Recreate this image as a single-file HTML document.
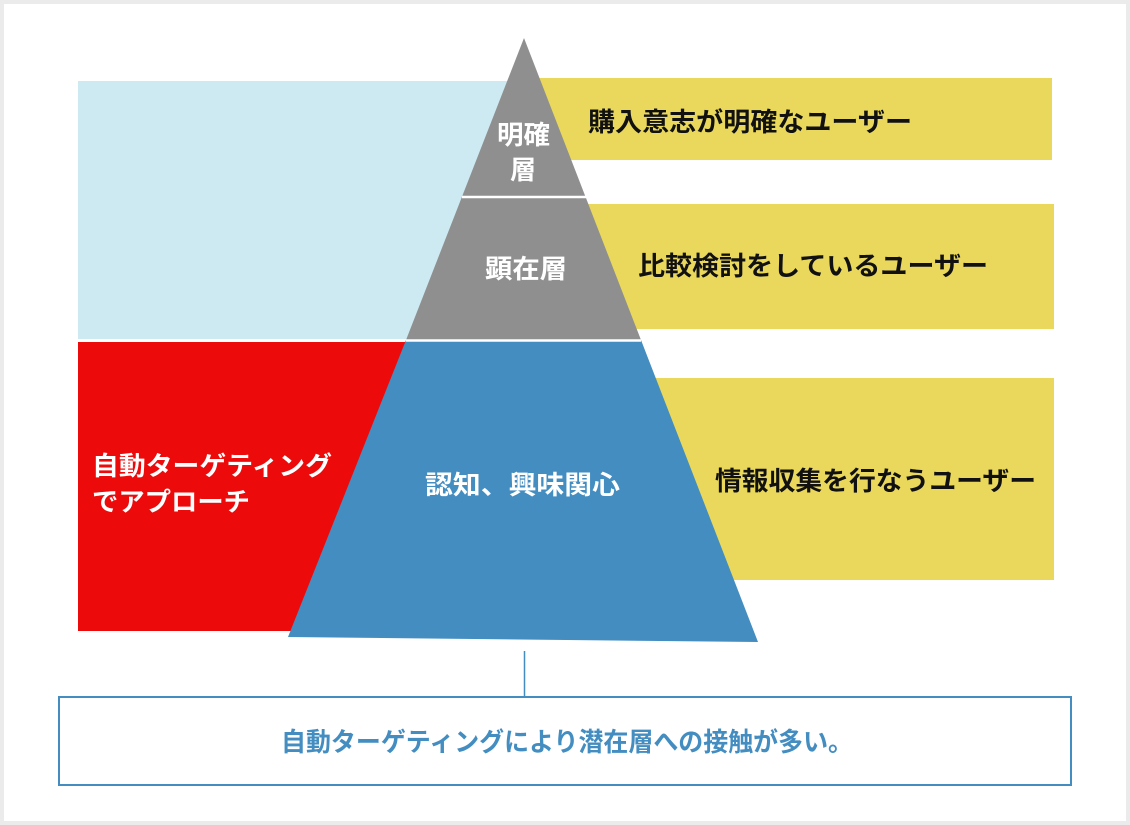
<!DOCTYPE html>
<html><head><meta charset="utf-8"><style>
html,body{margin:0;padding:0;background:#fff}
svg{display:block}
text{font-family:"Liberation Sans","Noto Sans CJK JP",sans-serif;font-weight:bold;dominant-baseline:central}
</style></head><body>
<svg width="1130" height="825" viewBox="0 0 1130 825" xmlns="http://www.w3.org/2000/svg">
<rect x="0" y="0" width="1130" height="825" fill="#ebebeb"/>
<rect x="4" y="4" width="1122" height="817" fill="#fff"/>
<rect x="78" y="81" width="450" height="258" fill="#cdeaf3"/>
<rect x="78" y="342" width="340" height="289" fill="#ec0a0a"/>
<rect x="530" y="78" width="522" height="82" fill="#e9d85c"/>
<rect x="580" y="204" width="474" height="125" fill="#e9d85c"/>
<rect x="640" y="378" width="414" height="202" fill="#e9d85c"/>
<polygon points="524,38 641,340 406,340" fill="#8f8f8f"/>
<polygon points="406,340 641,340 758,642 288,637" fill="#438dc1"/>
<line x1="462" y1="197" x2="586" y2="197" stroke="#fff" stroke-width="2.5"/>
<line x1="406" y1="340.5" x2="641" y2="340.5" stroke="#fff" stroke-width="2.5"/>
<line x1="524.5" y1="651" x2="524.5" y2="696" stroke="#438dc1" stroke-width="1.5"/>
<rect x="59" y="697" width="1012" height="88" fill="none" stroke="#438dc1" stroke-width="2"/>
<g font-size="26">
<text x="588" y="122" textLength="324" lengthAdjust="spacingAndGlyphs" fill="#111">購入意志が明確なユーザー</text>
<text x="638" y="266" textLength="350" lengthAdjust="spacingAndGlyphs" fill="#111">比較検討をしているユーザー</text>
<text x="715" y="481" textLength="321" lengthAdjust="spacingAndGlyphs" fill="#111">情報収集を行なうユーザー</text>
<text x="497" y="135" textLength="53" lengthAdjust="spacingAndGlyphs" fill="#fff">明確</text>
<text x="510" y="170" fill="#fff">層</text>
<text x="485" y="269" textLength="82" lengthAdjust="spacingAndGlyphs" fill="#fff">顕在層</text>
<text x="425" y="485" textLength="195" lengthAdjust="spacingAndGlyphs" fill="#fff">認知、興味関心</text>
<text x="92" y="466" textLength="240" lengthAdjust="spacingAndGlyphs" fill="#fff">自動ターゲティング</text>
<text x="92" y="502" textLength="158" lengthAdjust="spacingAndGlyphs" fill="#fff">でアプローチ</text>
<text x="281" y="742" textLength="572" lengthAdjust="spacingAndGlyphs" fill="#438dc1">自動ターゲティングにより潜在層への接触が多い。</text>
</g>
</svg>
</body></html>
